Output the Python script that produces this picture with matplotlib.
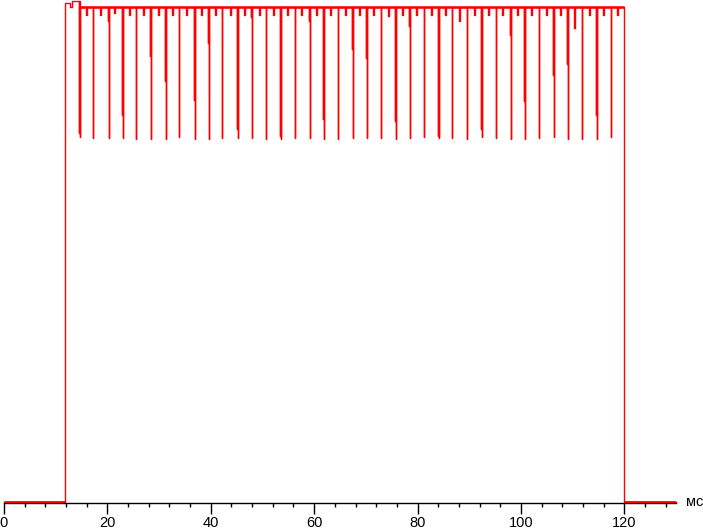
import matplotlib
matplotlib.use('Agg')
import matplotlib.pyplot as plt
from matplotlib.ticker import MultipleLocator

# уровни сигнала (в % от установившейся яркости)
base = 0.2
top = 100.0
t_on = 11.75
t_off = 120.0

# выброс в начале импульса
start_t = [11.75, 11.87, 12.84, 13.22]
start_v = [98.6, 100.75, 99.9, 101.15]

# основные провалы (мс), глубина, и второй отсчёт провала
dip_t = [14.46, 17.29, 20.08, 22.85, 25.61, 28.33, 31.23, 33.94, 36.73, 39.50,
         42.26, 45.05, 47.82, 50.59, 53.38, 56.21, 58.99, 61.76, 64.53, 67.32,
         70.09, 72.86, 75.60, 78.41, 81.18, 83.97, 86.74, 89.51, 92.29, 95.12,
         97.83, 100.62, 103.45, 106.16, 108.95, 111.77, 114.56, 117.33]
dip_v = [73.8, 73.6, 73.6, 73.6, 73.4, 73.4, 73.4, 73.8, 73.4, 73.4,
         73.6, 73.6, 73.6, 73.4, 73.4, 73.6, 73.6, 73.4, 73.4, 73.6,
         73.6, 73.6, 73.4, 73.6, 73.8, 73.6, 73.6, 73.4, 73.8, 73.6,
         73.4, 73.4, 73.6, 73.8, 73.4, 73.4, 73.4, 73.8]
dip_p = [74.5, None, 97.2, 78.2, None, 90.1, 85.1, None, 81.2, 92.7,
         None, 75.3, 98.0, None, 74.0, None, 97.2, 77.4, None, 91.5,
         89.7, None, 77.0, 96.2, None, 74.0, None, None, 75.4, None,
         94.3, 81.0, None, 86.3, 88.5, None, 78.2, 95.2]

# мелкие провалы между основными
notch_t = [15.77, 18.64, 21.35, 24.15, 26.90, 29.71, 32.51, 35.22, 38.13, 40.84,
           43.66, 46.45, 49.29, 51.96, 54.71, 57.54, 60.34, 63.09, 65.94, 68.67,
           71.47, 74.26, 76.99, 79.70, 82.58, 85.31, 88.06, 90.83, 93.63, 96.38,
           99.19, 101.99, 104.76, 107.57, 110.26, 113.12, 115.80, 118.65]
notch_v = [98.4, 98.4, 98.8, 98.4, 98.4, 98.4, 98.4, 98.4, 98.4, 98.4,
           98.4, 98.4, 98.4, 98.4, 98.4, 98.4, 98.4, 98.4, 98.4, 98.4,
           98.4, 98.2, 98.4, 98.4, 98.4, 98.4, 97.2, 98.4, 98.4, 98.4,
           98.4, 98.4, 98.4, 98.4, 95.8, 98.4, 98.4, 98.4]

dt = 0.19  # один отсчёт

xs = [0, t_on]
ys = [base, base]
for t, v in zip(start_t, start_v):
    xs += [t, t]
    ys += [ys[-1], v]

events = [(t, 'd', v, p) for t, v, p in zip(dip_t, dip_v, dip_p)]
events += [(t, 'n', v, None) for t, v in zip(notch_t, notch_v)]
events.sort()
for t, kind, v, p in events:
    cur = ys[-1]
    if kind == 'd':
        if p is not None:
            xs += [t, t, t]
            ys += [cur, p, cur]
            t = t + dt
        xs += [t, t, t]
        ys += [cur, v, top]
    else:
        xs += [t, t, t + dt, t + dt]
        ys += [cur, v, v, top]
xs += [t_off, t_off, 130]
ys += [ys[-1], base, base]

fig = plt.figure(figsize=(7.03, 5.30), dpi=100)
ax = fig.add_axes([4 / 703, 27.5 / 530, 672 / 703, 502.5 / 530])
ax.plot(xs, ys, color='#ff0000', lw=1.0, clip_on=False)
# толщина полки и нулевой линии
ax.hlines(top, dip_t[0], t_off, color='#ff0000', lw=1.8)
ax.hlines(base, 0, t_on, color='#ff0000', lw=2.0, zorder=3)
ax.hlines(base, t_off, 130, color='#ff0000', lw=2.0, zorder=3)

ax.set_xlim(0, 130)
ax.set_ylim(0, 101.4)
for s in ['top', 'right', 'left']:
    ax.spines[s].set_visible(False)
ax.spines['bottom'].set_linewidth(1.0)
ax.set_yticks([])
ax.set_xticks(range(0, 121, 20))
ax.xaxis.set_minor_locator(MultipleLocator(4))
ax.tick_params(axis='x', which='major', length=8, width=1, pad=2,
               labelsize=10.5, labelfontfamily='Liberation Sans')
ax.tick_params(axis='x', which='minor', length=3.2, width=1)
ax.text(1.0 + 10 / 672, 0, 'мс', transform=ax.transAxes, fontsize=10.5,
        family='Liberation Sans', va='center', ha='left')

fig.savefig('out.png', dpi=100)
